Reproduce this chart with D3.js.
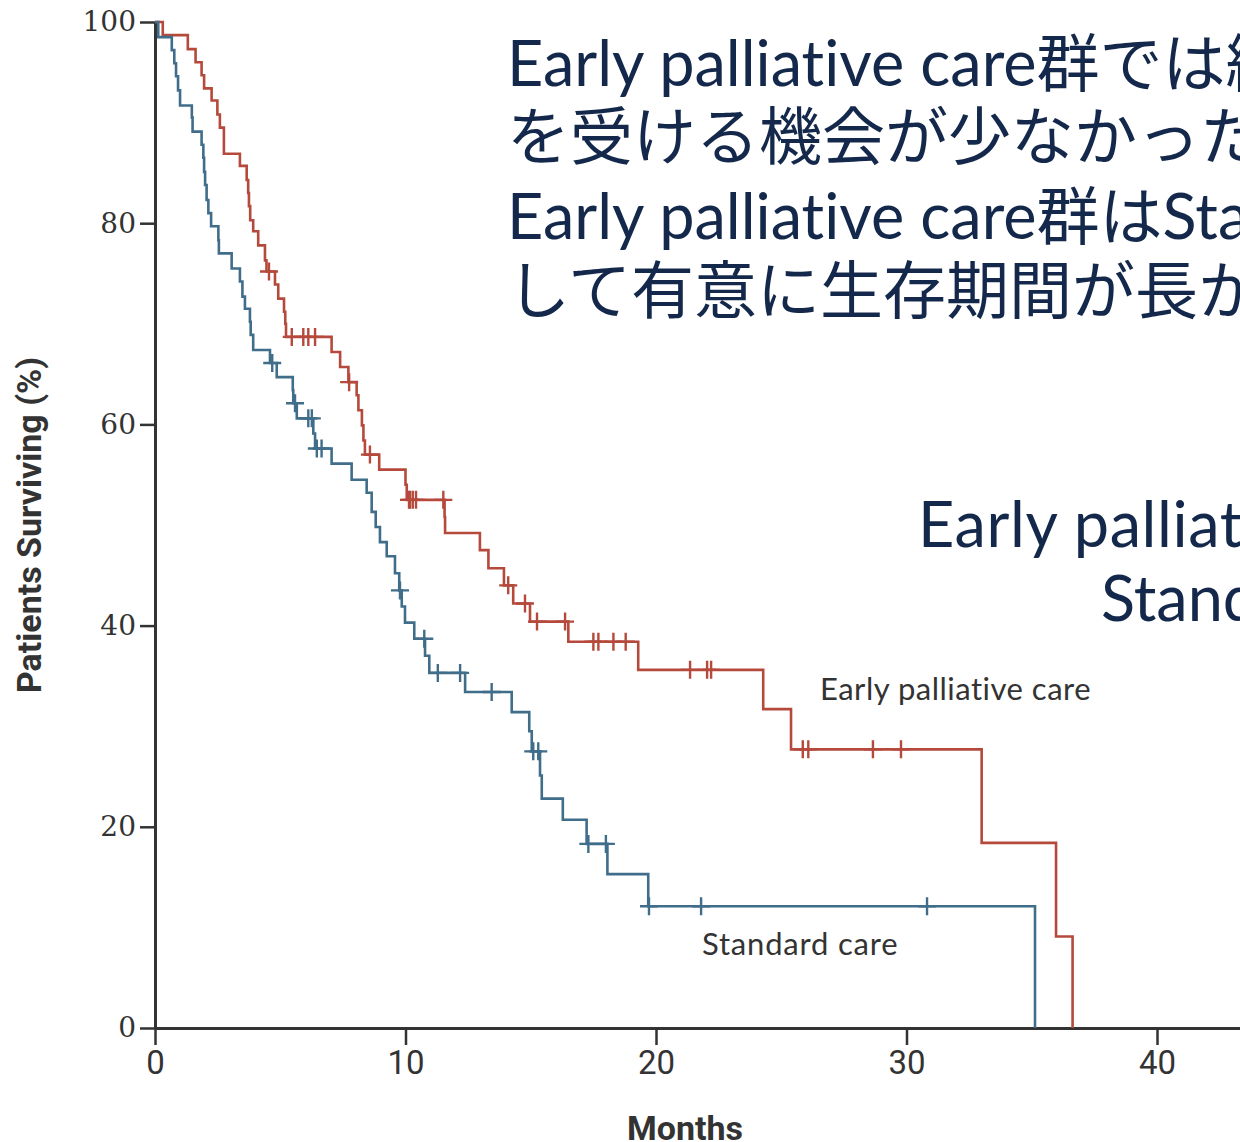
<!DOCTYPE html>
<html lang="ja">
<head>
<meta charset="utf-8">
<script src="https://cdn.jsdelivr.net/npm/d3@7"></script>
<style>
  html, body { margin: 0; padding: 0; background: #fff; overflow: hidden; }
  svg { display: block; }
  text { font-variant-ligatures: none; font-feature-settings: "liga" 0, "clig" 0; }
</style>
</head>
<body>
<svg id="chart" width="1240" height="1142"></svg>
<script>
// Kaplan–Meier survival, early palliative care vs standard care.
// Each series: event times (months) and survival (%) right after each event.
const earlyTimes = [0.31, 1.31, 1.62, 1.86, 1.96, 2.26, 2.49, 2.59, 2.75, 3.39, 3.66, 3.72, 3.75, 3.80,
  3.92, 4.12, 4.39, 4.45, 4.79, 4.92, 5.15, 5.20, 5.23, 7.05, 7.39, 7.72, 8.05, 8.12, 8.26, 8.32, 8.38,
  8.95, 10.00, 10.05, 11.56, 11.58, 12.97, 13.31, 13.93, 14.30, 14.97, 16.50, 19.29, 24.28, 25.39,
  33.00, 35.97, 36.63];
const earlySurv = [98.7, 97.3, 96.0, 94.7, 93.4, 92.2, 90.8, 89.5, 86.9, 85.7, 84.3, 83.0, 81.7, 80.3,
  79.2, 77.8, 76.3, 75.2, 73.9, 72.5, 71.2, 70.0, 68.7, 67.2, 65.7, 64.2, 62.9, 61.4, 59.9, 58.4, 57.0,
  55.5, 54.0, 52.5, 50.8, 49.2, 47.5, 45.7, 44.0, 42.2, 40.4, 38.4, 35.6, 31.7, 27.7,
  18.4, 9.1, 0];
const earlyCensor = [4.55, 5.46, 5.92, 6.12, 6.39, 7.75, 8.58, 10.14, 10.18, 10.29, 10.42, 11.51, 14.10,
  14.77, 15.25, 16.37, 17.50, 17.70, 18.30, 18.79, 21.36, 22.04, 22.20, 25.86, 26.08, 28.66, 29.78];

const standardTimes = [0.13, 0.67, 0.77, 0.84, 0.92, 1.00, 1.47, 1.50, 1.86, 1.93, 1.96, 2.00, 2.06, 2.13,
  2.24, 2.53, 2.55, 3.06, 3.39, 3.49, 3.59, 3.79, 3.82, 3.92, 4.59, 4.86, 5.50, 5.52, 5.66, 6.32, 6.39,
  7.05, 7.85, 8.45, 8.65, 8.81, 8.98, 9.25, 9.58, 9.75, 9.85, 9.98, 10.35, 10.78, 10.95, 12.38, 14.24,
  14.94, 15.04, 15.37, 15.44, 16.28, 17.23, 18.06, 19.69, 35.13];
const standardSurv = [98.5, 97.2, 95.9, 94.6, 93.2, 91.7, 90.5, 89.1, 87.8, 86.5, 85.1, 83.8, 82.3, 81.0,
  79.7, 78.3, 77.0, 75.5, 74.2, 72.7, 71.5, 70.2, 68.9, 67.4, 66.1, 64.7, 63.4, 62.1, 60.6, 59.1, 57.6,
  56.1, 54.5, 53.2, 51.3, 49.8, 48.3, 46.9, 45.2, 43.5, 41.9, 40.3, 38.7, 37.0, 35.3, 33.4, 31.4,
  29.5, 27.5, 25.1, 22.8, 20.7, 18.3, 15.3, 12.1, 0];
const standardCensor = [4.68, 5.59, 6.12, 6.26, 6.46, 6.65, 9.78, 10.75, 11.29, 12.18, 13.44, 15.10, 15.30,
  17.30, 18.00, 19.72, 21.80, 30.82];

const xTicks = [0, 10, 20, 30, 40];
const yTicks = [0, 20, 40, 60, 80, 100];

const seriesNames = ["Early palliative care", "Standard care"];
const headlineLines = [
  "Early palliative care群では終末期に積極的な治療",
  "を受ける機会が少なかった",
  "Early palliative care群はStandard care群に比較",
  "して有意に生存期間が長かった"
];
const medianLines = ["Early palliative care群 11.6ヶ月", "Standard care群 8.9ヶ月"];

const svg = d3.select("#chart");
const x = d3.scaleLinear().domain([0, 45]).range([155, 155 + 45 * 25.05]);
const y = d3.scaleLinear().domain([0, 100]).range([1028, 22]);

const AXIS = "#333";
const RED = "#b5493c";
const BLUE = "#3f6d8a";

// axes
const xAxis = svg.append("g").attr("transform", `translate(0,${y(0)})`)
  .call(d3.axisBottom(x).tickValues(xTicks).tickSize(17).tickSizeOuter(0).tickPadding(6));
xAxis.select(".domain").attr("stroke", AXIS).attr("stroke-width", 3);
xAxis.selectAll(".tick line").attr("stroke", AXIS).attr("stroke-width", 2.5);
xAxis.selectAll(".tick text").attr("fill", AXIS)
  .style("font-family", "'Liberation Sans Narrow', 'Roboto', sans-serif").style("font-size", "33px");

const yAxis = svg.append("g").attr("transform", `translate(${x(0)},0)`)
  .call(d3.axisLeft(y).tickValues(yTicks).tickSize(15).tickSizeOuter(0).tickPadding(4));
yAxis.select(".domain").attr("stroke", AXIS).attr("stroke-width", 3);
yAxis.selectAll(".tick line").attr("stroke", AXIS).attr("stroke-width", 2.5);
yAxis.selectAll(".tick text").attr("fill", AXIS)
  .style("font-family", "'DejaVu Serif', serif").style("font-size", "28px");

// axis titles
svg.append("text").attr("x", 685).attr("y", 1140).attr("text-anchor", "middle")
  .attr("fill", AXIS).style("font-family", "'Liberation Sans Narrow', 'Roboto', sans-serif")
  .style("font-weight", "bold").style("font-size", "34px").text("Months");
svg.append("text").attr("transform", "translate(41,525) rotate(-90)").attr("text-anchor", "middle")
  .attr("fill", AXIS).style("font-family", "'Liberation Sans Narrow', 'Roboto', sans-serif")
  .style("font-weight", "bold").style("font-size", "34px").text("Patients Surviving (%)");

// survival curves
const step = d3.line().x(d => x(d[0])).y(d => y(d[1])).curve(d3.curveStepAfter);
function pts(times, surv) { return [[0, 100]].concat(times.map((t, i) => [t, surv[i]])); }
function survAt(times, surv, t) {
  let s = 100;
  times.forEach((ti, i) => { if (ti <= t) s = surv[i]; });
  return s;
}
const groups = [
  { times: earlyTimes, surv: earlySurv, censor: earlyCensor, color: RED },
  { times: standardTimes, surv: standardSurv, censor: standardCensor, color: BLUE }
];
groups.forEach(g => {
  svg.append("path").datum(pts(g.times, g.surv)).attr("d", step)
    .attr("fill", "none").attr("stroke", g.color).attr("stroke-width", 2.6);
  svg.append("g").selectAll("path").data(g.censor).join("path")
    .attr("d", t => {
      const cx = x(t), cy = y(survAt(g.times, g.surv, t));
      return `M${cx - 9},${cy}H${cx + 9}M${cx},${cy - 9}V${cy + 9}`;
    })
    .attr("stroke", g.color).attr("stroke-width", 2.4).attr("fill", "none");
});

// curve labels
const labelFont = "'Lato', 'Open Sans', sans-serif";
svg.append("text").attr("x", 820).attr("y", 700).attr("fill", AXIS)
  .style("font-family", labelFont).style("font-size", "31px").style("letter-spacing", "0.5px")
  .text(seriesNames[0]);
svg.append("text").attr("x", 702).attr("y", 955).attr("fill", AXIS)
  .style("font-family", labelFont).style("font-size", "31px").style("letter-spacing", "0.8px")
  .text(seriesNames[1]);

// headline text (Latin in Lato, Japanese falls back to Noto Sans CJK JP)
const NAVY = "#13284a";
const slideFont = "'Lato', 'Noto Sans CJK JP', sans-serif";
const lineY = [86, 159, 239, 313];
svg.append("g").selectAll("text").data(headlineLines).join("text")
  .attr("x", 507).attr("y", (d, i) => lineY[i]).attr("fill", NAVY)
  .style("font-family", slideFont).style("font-size", "63px").text(d => d);

// median survival text
svg.append("text").attr("x", 918).attr("y", 547).attr("fill", NAVY)
  .style("font-family", slideFont).style("font-size", "63px").style("letter-spacing", "0.6px")
  .text(medianLines[0]);
svg.append("text").attr("x", 1101).attr("y", 621).attr("fill", NAVY)
  .style("font-family", slideFont).style("font-size", "63px").text(medianLines[1]);
</script>
</body>
</html>
